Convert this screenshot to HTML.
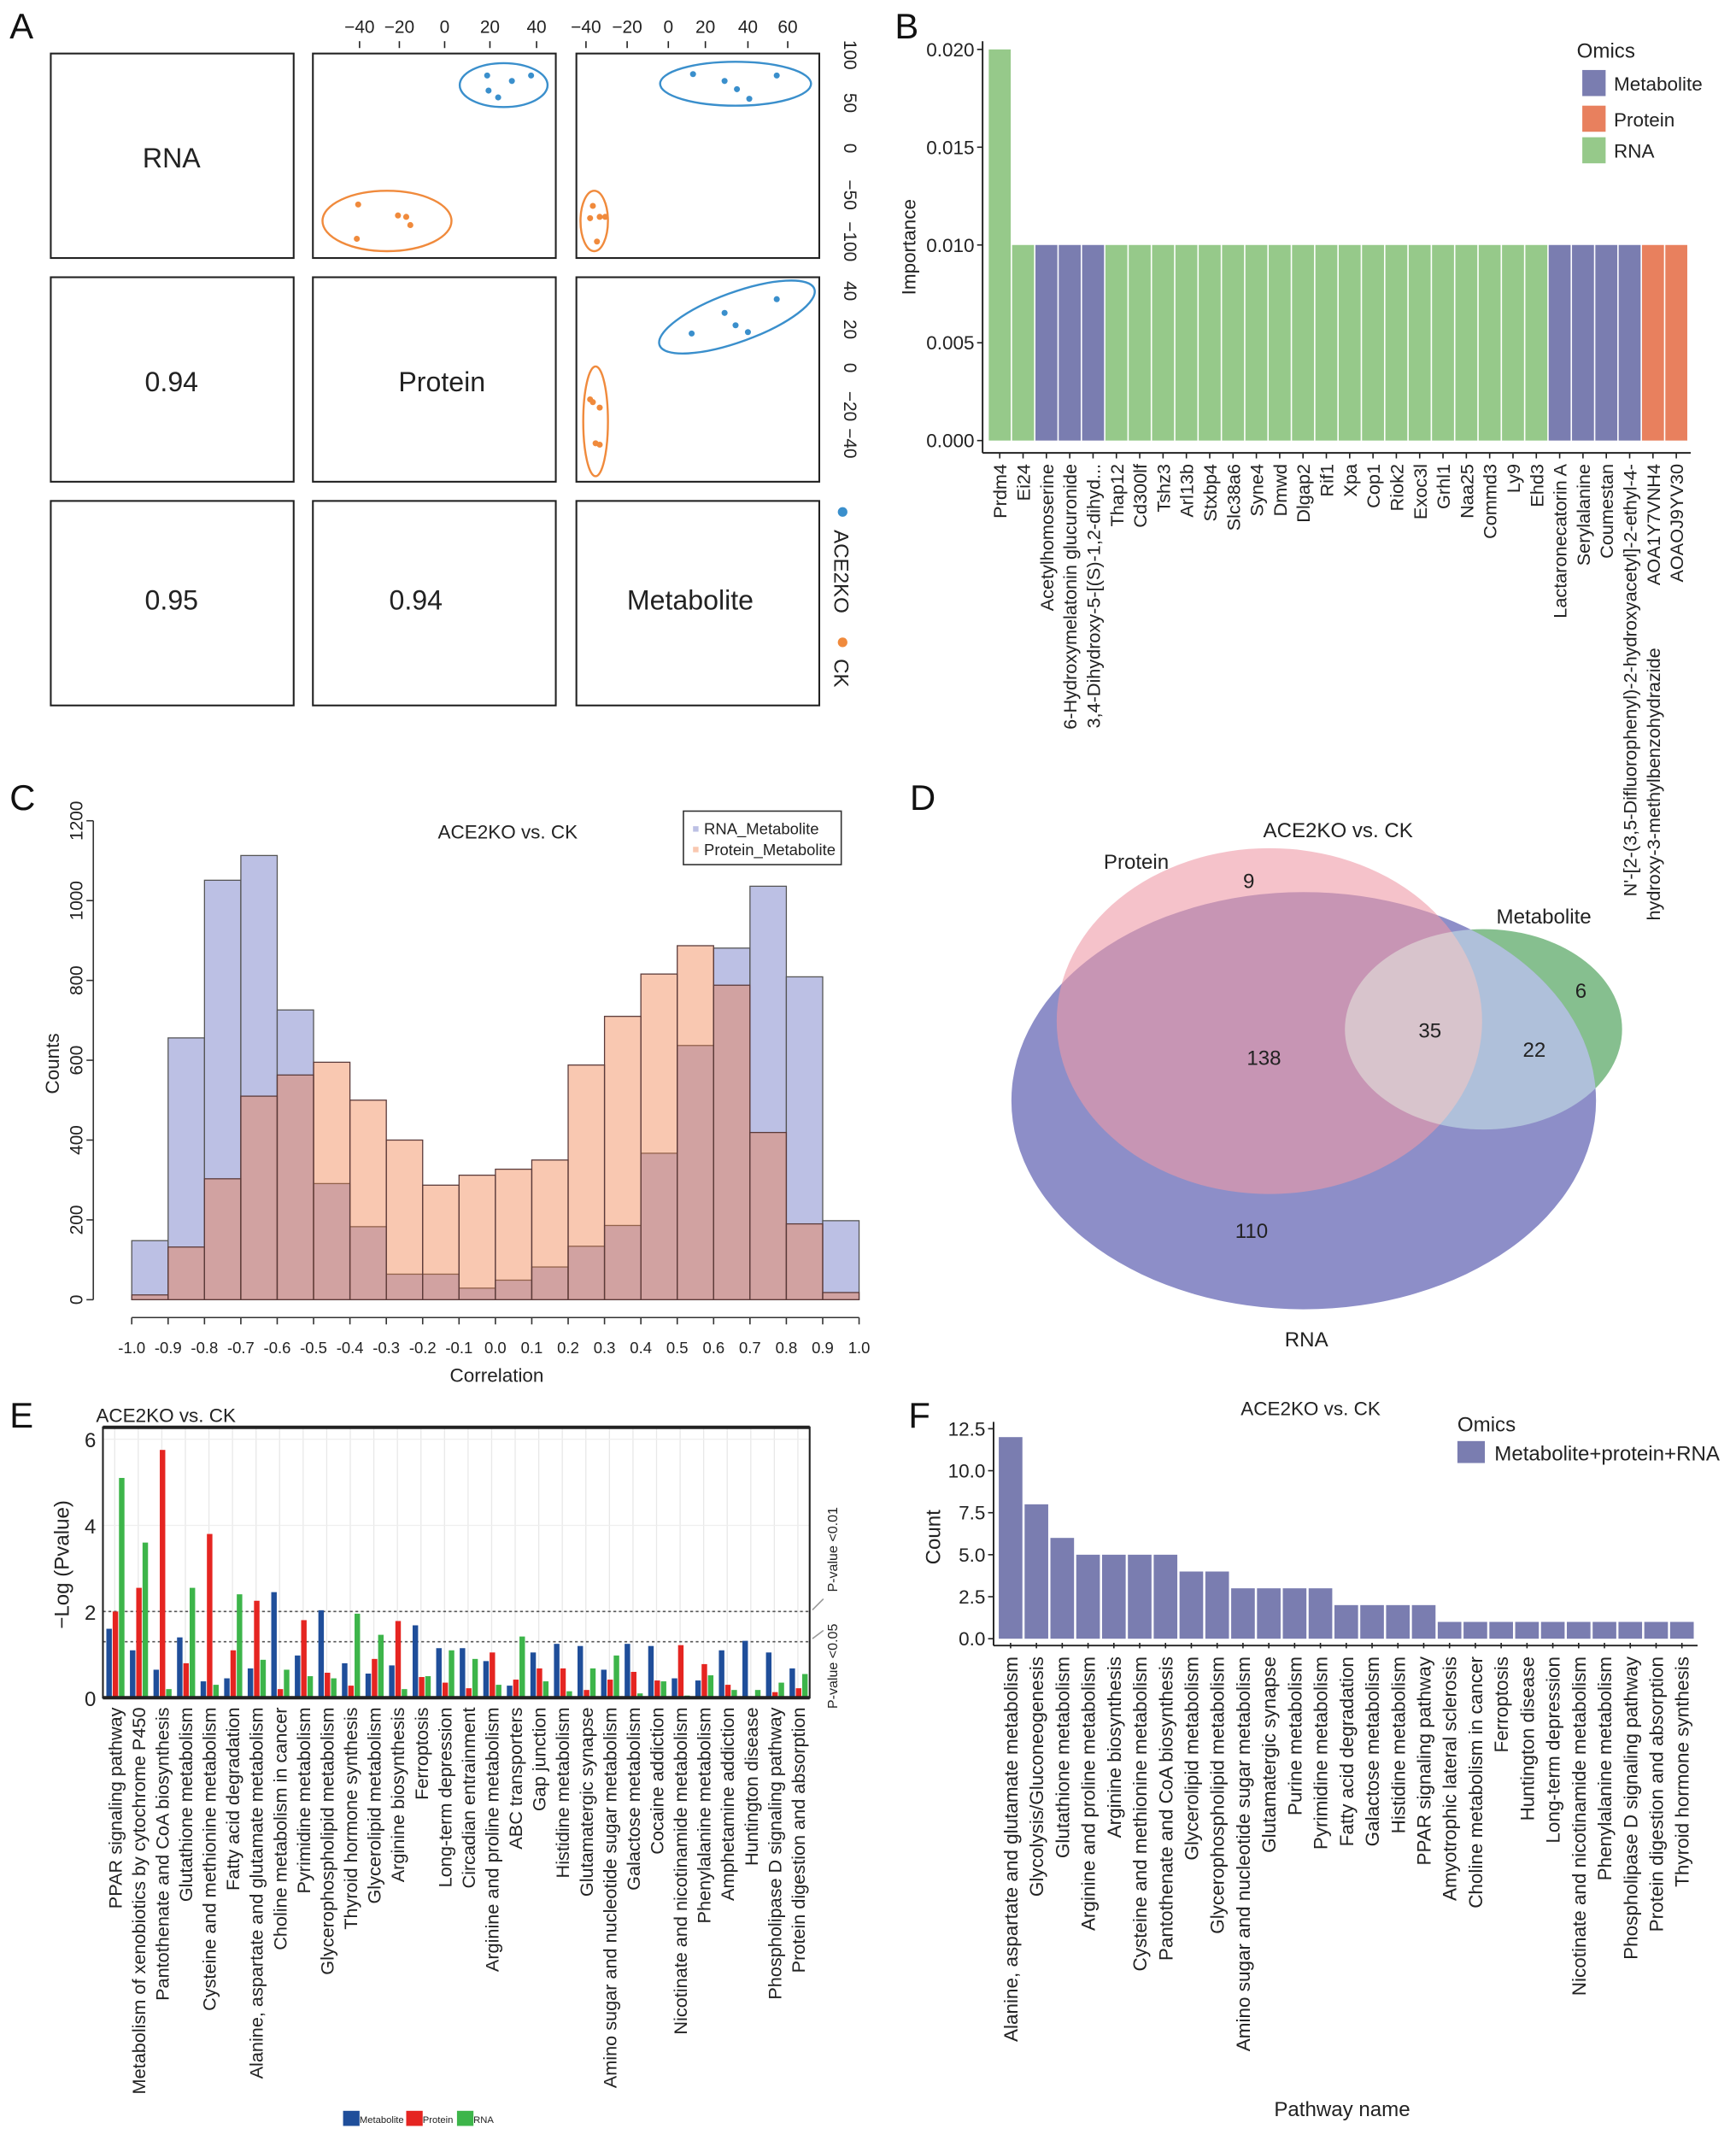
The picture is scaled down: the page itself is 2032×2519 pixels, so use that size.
<!DOCTYPE html>
<html><head><meta charset="utf-8">
<style>
html,body{margin:0;padding:0;background:#fff;}
svg{display:block;font-family:"Liberation Sans",Arial,sans-serif;}
</style></head>
<body>
<svg id="fig" xmlns="http://www.w3.org/2000/svg" width="2032" height="2519" viewBox="0 0 1265 1568" preserveAspectRatio="none">
<defs><clipPath id="rnaClip"><ellipse cx="950" cy="802" rx="213" ry="152"/></clipPath></defs>
<rect x="0" y="0" width="1265" height="1568" fill="#fff"/>
<!-- panel letters -->
<g font-size="26" fill="#111">
<text x="7" y="28">A</text>
<text x="652" y="28">B</text>
<text x="7" y="590">C</text>
<text x="663" y="590">D</text>
<text x="7" y="1040">E</text>
<text x="662" y="1040">F</text>
</g>

<!-- Panel A -->
<g id="panelA" stroke="#222" stroke-width="1.3" fill="none">
<rect x="37" y="39" width="177" height="149"/>
<rect x="228" y="39" width="177" height="149"/>
<rect x="420" y="39" width="177" height="149"/>
<rect x="37" y="202" width="177" height="149"/>
<rect x="228" y="202" width="177" height="149"/>
<rect x="420" y="202" width="177" height="149"/>
<rect x="37" y="365" width="177" height="149"/>
<rect x="228" y="365" width="177" height="149"/>
<rect x="420" y="365" width="177" height="149"/>
</g>
<g font-size="20" fill="#222" text-anchor="middle">
<text x="125" y="122">RNA</text>
<text x="322" y="285">Protein</text>
<text x="503" y="444">Metabolite</text>
<text x="125" y="285">0.94</text>
<text x="125" y="444">0.95</text>
<text x="303" y="444">0.94</text>
</g>
<g font-size="13" fill="#222" text-anchor="middle">
<text x="262" y="24">−40</text><text x="291" y="24">−20</text><text x="324" y="24">0</text><text x="357" y="24">20</text><text x="391" y="24">40</text>
<text x="427" y="24">−40</text><text x="457" y="24">−20</text><text x="487" y="24">0</text><text x="514" y="24">20</text><text x="545" y="24">40</text><text x="574" y="24">60</text>
</g>
<g stroke="#222" stroke-width="1">
<line x1="262" y1="30" x2="262" y2="35"/><line x1="291" y1="30" x2="291" y2="35"/><line x1="324" y1="30" x2="324" y2="35"/><line x1="357" y1="30" x2="357" y2="35"/><line x1="391" y1="30" x2="391" y2="35"/>
<line x1="427" y1="30" x2="427" y2="35"/><line x1="457" y1="30" x2="457" y2="35"/><line x1="487" y1="30" x2="487" y2="35"/><line x1="514" y1="30" x2="514" y2="35"/><line x1="545" y1="30" x2="545" y2="35"/><line x1="574" y1="30" x2="574" y2="35"/>
</g>
<g font-size="13" fill="#222" text-anchor="middle">
<text transform="translate(615,40) rotate(90)">100</text>
<text transform="translate(615,75) rotate(90)">50</text>
<text transform="translate(615,108) rotate(90)">0</text>
<text transform="translate(615,142) rotate(90)">−50</text>
<text transform="translate(615,176) rotate(90)">−100</text>
<text transform="translate(615,212) rotate(90)">40</text>
<text transform="translate(615,240) rotate(90)">20</text>
<text transform="translate(615,268) rotate(90)">0</text>
<text transform="translate(615,296) rotate(90)">−20</text>
<text transform="translate(615,323) rotate(90)">−40</text>
</g>
<g fill="none" stroke-width="1.5">
<ellipse cx="367" cy="62" rx="32" ry="16" stroke="#3a8fcc"/>
<ellipse cx="282" cy="161" rx="47" ry="22" stroke="#f08a3c"/>
<ellipse cx="536" cy="61" rx="55" ry="16" stroke="#3a8fcc"/>
<ellipse cx="433" cy="161" rx="10" ry="22" stroke="#f08a3c"/>
<ellipse cx="537" cy="231" rx="60" ry="18" stroke="#3a8fcc" transform="rotate(-20 537 231)"/>
<ellipse cx="434" cy="307" rx="9" ry="40" stroke="#f08a3c"/>
</g>
<g fill="#3a8fcc">
<circle cx="355" cy="55" r="2.2"/><circle cx="387" cy="55" r="2.2"/><circle cx="373" cy="59" r="2.2"/><circle cx="356" cy="66" r="2.2"/><circle cx="363" cy="71" r="2.2"/>
<circle cx="505" cy="54" r="2.2"/><circle cx="528" cy="59" r="2.2"/><circle cx="566" cy="55" r="2.2"/><circle cx="537" cy="65" r="2.2"/><circle cx="546" cy="72" r="2.2"/>
<circle cx="504" cy="243" r="2.2"/><circle cx="528" cy="228" r="2.2"/><circle cx="536" cy="237" r="2.2"/><circle cx="545" cy="242" r="2.2"/><circle cx="566" cy="218" r="2.2"/>
<circle cx="614" cy="373" r="3.5"/>
</g>
<g fill="#f08a3c">
<circle cx="261" cy="149" r="2.2"/><circle cx="290" cy="157" r="2.2"/><circle cx="296" cy="158" r="2.2"/><circle cx="299" cy="164" r="2.2"/><circle cx="260" cy="174" r="2.2"/>
<circle cx="432" cy="150" r="2.2"/><circle cx="437" cy="158" r="2.2"/><circle cx="430" cy="159" r="2.2"/><circle cx="441" cy="158" r="2.2"/><circle cx="435" cy="176" r="2.2"/>
<circle cx="430" cy="291" r="2.2"/><circle cx="437" cy="297" r="2.2"/><circle cx="432" cy="293" r="2.2"/><circle cx="434" cy="323" r="2.2"/><circle cx="437" cy="324" r="2.2"/>
<circle cx="614" cy="468" r="3.5"/>
</g>
<g font-size="15" fill="#222">
<text transform="translate(608,386) rotate(90)">ACE2KO</text>
<text transform="translate(608,480) rotate(90)">CK</text>
</g>

<!-- Panel B static parts -->
<g font-size="14" fill="#222">
<text transform="translate(667,180) rotate(-90)" text-anchor="middle">Importance</text>
<text x="1149" y="42" font-size="15">Omics</text>
<rect x="1153" y="51" width="17" height="19" fill="#7a7db0"/>
<text x="1176" y="66">Metabolite</text>
<rect x="1153" y="77" width="17" height="19" fill="#e8805e"/>
<text x="1176" y="92">Protein</text>
<rect x="1153" y="100" width="17" height="19" fill="#96c98a"/>
<text x="1176" y="115">RNA</text>
</g>
<g id="panelB"></g>

<!-- Panel C -->
<g id="panelC"></g>
<g font-size="14" fill="#222">
<text x="370" y="611" text-anchor="middle">ACE2KO vs. CK</text>
<text x="362" y="1007" text-anchor="middle">Correlation</text>
<text transform="translate(43,775) rotate(-90)" text-anchor="middle">Counts</text>
<rect x="498" y="591" width="115" height="39" fill="#fff" stroke="#333" stroke-width="1"/>
<rect x="505" y="602" width="4" height="4" fill="#bcc0e4"/>
<text x="513" y="608" font-size="11.5">RNA_Metabolite</text>
<rect x="505" y="617" width="4" height="4" fill="#f9c8b0"/>
<text x="513" y="623" font-size="11.5">Protein_Metabolite</text>
</g>

<!-- Panel D Venn -->
<g id="panelD">
<ellipse cx="1081" cy="750" rx="101" ry="73" fill="#86bf8f"/>
<ellipse cx="950" cy="802" rx="213" ry="152" fill="#8d8ec8"/>
<ellipse cx="925" cy="744" rx="155" ry="126" fill="#ee9aa6" fill-opacity="0.6"/>
<ellipse cx="1081" cy="750" rx="101" ry="73" fill="#7fbb8a" fill-opacity="0.6" clip-path="url(#rnaClip)" style="mix-blend-mode:screen"/>
<g font-size="15" fill="#222" text-anchor="middle">
<text x="975" y="610">ACE2KO vs. CK</text>
<text x="828" y="633">Protein</text>
<text x="1125" y="673">Metabolite</text>
<text x="952" y="981">RNA</text>
<text x="910" y="647">9</text>
<text x="1152" y="727">6</text>
<text x="1042" y="756">35</text>
<text x="921" y="776">138</text>
<text x="1118" y="770">22</text>
<text x="912" y="902">110</text>
</g>
</g>

<!-- Panel E -->
<g id="panelE"></g>
<g font-size="14" fill="#222">
<text x="70" y="1036">ACE2KO vs. CK</text>
<text transform="translate(50,1140) rotate(-90)" text-anchor="middle" font-size="15">−Log (Pvalue)</text>
<text transform="translate(610,1160) rotate(-90)" font-size="10">P-value &lt;0.01</text>
<text transform="translate(610,1245) rotate(-90)" font-size="10">P-value &lt;0.05</text>
<path d="M592 1173 L600 1165" stroke="#999" fill="none"/>
<path d="M592 1194 L600 1188" stroke="#999" fill="none"/>
<rect x="250" y="1538" width="12" height="11" fill="#1f4e9a"/>
<text x="262" y="1547" font-size="7">Metabolite</text>
<rect x="296" y="1538" width="12" height="11" fill="#e52521"/>
<text x="308" y="1547" font-size="7">Protein</text>
<rect x="333" y="1538" width="12" height="11" fill="#3db54a"/>
<text x="345" y="1547" font-size="7">RNA</text>
</g>

<!-- Panel F -->
<g id="panelF"></g>
<g font-size="15" fill="#222">
<text x="955" y="1031" text-anchor="middle" font-size="14">ACE2KO vs. CK</text>
<text x="1062" y="1043">Omics</text>
<rect x="1062" y="1050" width="20" height="16" fill="#7a7db0"/>
<text x="1089" y="1064">Metabolite+protein+RNA</text>
<text transform="translate(685,1120) rotate(-90)" text-anchor="middle">Count</text>
<text x="978" y="1542" text-anchor="middle">Pathway name</text>
</g>
</svg>
<script>
// ---------- Panel B data ----------
const bNames = ["Prdm4","Ei24","Acetylhomoserine","6-Hydroxymelatonin glucuronide","3,4-Dihydroxy-5-[(S)-1,2-dihyd...","Thap12","Cd300lf","Tshz3","Arl13b","Stxbp4","Slc38a6","Syne4","Dmwd","Dlgap2","Rif1","Xpa","Cop1","Riok2","Exoc3l","Grhl1","Naa25","Commd3","Ly9","Ehd3","Lactaronecatorin A","Serylalanine","Coumestan","N'-[2-(3,5-Difluorophenyl)-2-hydroxyacetyl]-2-ethyl-4-","AOA1Y7VNH4","AOAOJ9YV30"];
const bValues = [0.02,0.01,0.01,0.01,0.01,0.01,0.01,0.01,0.01,0.01,0.01,0.01,0.01,0.01,0.01,0.01,0.01,0.01,0.01,0.01,0.01,0.01,0.01,0.01,0.01,0.01,0.01,0.01,0.01,0.01];
const bOmics = ["RNA","RNA","Metabolite","Metabolite","Metabolite","RNA","RNA","RNA","RNA","RNA","RNA","RNA","RNA","RNA","RNA","RNA","RNA","RNA","RNA","RNA","RNA","RNA","RNA","RNA","Metabolite","Metabolite","Metabolite","Metabolite","Protein","Protein"];
const bTicks = [0,0.005,0.01,0.015,0.02];
const bTickLabels = ["0.000","0.005","0.010","0.015","0.020"];
// ---------- Panel C data ----------
const cBinStarts = [-1.0,-0.9,-0.8,-0.7,-0.6,-0.5,-0.4,-0.3,-0.2,-0.1,0.0,0.1,0.2,0.3,0.4,0.5,0.6,0.7,0.8,0.9];
const cRNA = [148,656,1051,1113,726,291,183,64,64,29,49,82,134,186,367,637,881,1036,809,198];
const cProtein = [12,132,303,510,563,595,500,400,287,312,327,350,588,710,816,887,788,419,190,18];
const cYTicks = [0,200,400,600,800,1000,1200];
const cXTickLabels = ["-1.0","-0.9","-0.8","-0.7","-0.6","-0.5","-0.4","-0.3","-0.2","-0.1","0.0","0.1","0.2","0.3","0.4","0.5","0.6","0.7","0.8","0.9","1.0"];
// ---------- Panel E data ----------
const eCats = ["PPAR signaling pathway","Metabolism of xenobiotics by cytochrome P450","Pantothenate and CoA biosynthesis","Glutathione metabolism","Cysteine and methionine metabolism","Fatty acid degradation","Alanine, aspartate and glutamate metabolism","Choline metabolism in cancer","Pyrimidine metabolism","Glycerophospholipid metabolism","Thyroid hormone synthesis","Glycerolipid metabolism","Arginine biosynthesis","Ferroptosis","Long-term depression","Circadian entrainment","Arginine and proline metabolism","ABC transporters","Gap junction","Histidine metabolism","Glutamatergic synapse","Amino sugar and nucleotide sugar metabolism","Galactose metabolism","Cocaine addiction","Nicotinate and nicotinamide metabolism","Phenylalanine metabolism","Amphetamine addiction","Huntington disease","Phospholipase D signaling pathway","Protein digestion and absorption"];
const eMetabolite = [1.6,1.1,0.65,1.4,0.38,0.45,0.68,2.45,0.98,2.03,0.8,0.56,0.75,1.68,1.15,1.15,0.85,0.28,1.05,1.25,1.2,0.65,1.25,1.2,0.45,0.4,1.1,1.32,1.05,0.68];
const eProtein = [2.0,2.55,5.75,0.8,3.8,1.1,2.25,0.2,1.8,0.58,0.28,0.9,1.78,0.48,0.35,0.22,1.05,0.42,0.68,0.68,0.18,0.42,0.6,0.4,1.22,0.78,0.3,0.02,0.13,0.22];
const eRNA = [5.1,3.6,0.2,2.55,0.3,2.4,0.88,0.65,0.5,0.45,1.95,1.46,0.2,0.5,1.1,0.9,0.3,1.42,0.38,0.15,0.68,0.98,0.1,0.38,0.05,0.52,0.18,0.18,0.35,0.55];
const eYTicks = [0,2,4,6];
const eThresholds = [2.0,1.3];
// ---------- Panel F data ----------
const fCats = ["Alanine, aspartate and glutamate metabolism","Glycolysis/Gluconeogenesis","Glutathione metabolism","Arginine and proline metabolism","Arginine biosynthesis","Cysteine and methionine metabolism","Pantothenate and CoA biosynthesis","Glycerolipid metabolism","Glycerophospholipid metabolism","Amino sugar and nucleotide sugar metabolism","Glutamatergic synapse","Purine metabolism","Pyrimidine metabolism","Fatty acid degradation","Galactose metabolism","Histidine metabolism","PPAR signaling pathway","Amyotrophic lateral sclerosis","Choline metabolism in cancer","Ferroptosis","Huntington disease","Long-term depression","Nicotinate and nicotinamide metabolism","Phenylalanine metabolism","Phospholipase D signaling pathway","Protein digestion and absorption","Thyroid hormone synthesis"];
const fCounts = [12,8,6,5,5,5,5,4,4,3,3,3,3,2,2,2,2,1,1,1,1,1,1,1,1,1,1];
const fYTicks = [0,2.5,5,7.5,10,12.5];
const fYTickLabels = ["0.0","2.5","5.0","7.5","10.0","12.5"];

const NS = "http://www.w3.org/2000/svg";
function mk(tag, attrs, parent){
  const e = document.createElementNS(NS, tag);
  for (const k in attrs) e.setAttribute(k, attrs[k]);
  parent.appendChild(e);
  return e;
}
function txt(parent, x, y, s, attrs){
  const t = mk("text", Object.assign({x:x, y:y, fill:"#222"}, attrs||{}), parent);
  t.textContent = s;
  return t;
}

// ---------- Panel B ----------
(function(){
  const g = document.getElementById("panelB");
  const x0 = 720, bw = 17, y0 = 321, yTop = 36;
  const yB = v => y0 - v / 0.02 * (y0 - yTop);
  const xB = i => x0 + i * bw;
  const col = {Metabolite:"#7a7db0", Protein:"#e8805e", RNA:"#96c98a"};
  const ax = mk("line", {x1:716, y1:30, x2:716, y2:330, stroke:"#222", "stroke-width":1.2}, g);
  
  
  const axx = mk("line", {x1:716, y1:330, x2:1232, y2:330, stroke:"#222", "stroke-width":1.2}, g);
  
  
  bTicks.forEach((v, i) => {
    mk("line", {x1:712, y1:yB(v), x2:716, y2:yB(v), stroke:"#222"}, g);
    const t = txt(g, 710, yB(v) + 5, bTickLabels[i], {"text-anchor":"end", "font-size":14});
    
    
  });
  bValues.forEach((v, i) => {
    const r = mk("rect", {x:xB(i) + 0.5, y:yB(v), width:bw - 1, height:y0 - yB(v), fill:col[bOmics[i]]}, g);
    
    
    const cx = xB(i) + bw / 2;
    mk("line", {x1:cx, y1:330, x2:cx, y2:334, stroke:"#222"}, g);
    const t = txt(g, 0, 0, bNames[i], {"text-anchor":"end", "font-size":13.5, transform:"translate(" + (cx + 5) + ",338) rotate(-90)"});
    
    
    if (i === 27) {
      const t2 = txt(g, 0, 0, "hydroxy-3-methylbenzohydrazide", {"text-anchor":"end", "font-size":13.5, transform:"translate(" + (cx + 22) + ",472) rotate(-90)"});
      
      
    }
  });
})();

// ---------- Panel C ----------
(function(){
  const g = document.getElementById("panelC");
  const xC = v => 96 + (v + 1) * 265;
  const yC = c => 947 - c * 0.2908;
  cBinStarts.forEach((b, i) => {
    const r = mk("rect", {x:xC(b), y:yC(cRNA[i]), width:xC(b + 0.1) - xC(b), height:947 - yC(cRNA[i]), fill:"#bcc0e4", stroke:"#555", "stroke-width":0.8}, g);
    
    
  });
  cBinStarts.forEach((b, i) => {
    const r = mk("rect", {x:xC(b), y:yC(cProtein[i]), width:xC(b + 0.1) - xC(b), height:947 - yC(cProtein[i]), fill:"rgb(240,117,60)", "fill-opacity":0.4, stroke:"#5a3a3a", "stroke-width":0.8}, g);
    
    
  });
  const ya = mk("line", {x1:68, y1:yC(0), x2:68, y2:yC(1200), stroke:"#333"}, g);
  
  
  cYTicks.forEach(v => {
    mk("line", {x1:63, y1:yC(v), x2:68, y2:yC(v), stroke:"#333"}, g);
    const t = txt(g, 0, 0, String(v), {"text-anchor":"middle", "font-size":13, transform:"translate(60," + yC(v) + ") rotate(-90)"});
    
    
  });
  const xa = mk("line", {x1:xC(-1), y1:960, x2:xC(1), y2:960, stroke:"#333"}, g);
  
  
  cXTickLabels.forEach(s => {
    const v = parseFloat(s);
    mk("line", {x1:xC(v), y1:960, x2:xC(v), y2:965, stroke:"#333"}, g);
    const t = txt(g, xC(v), 986, s, {"text-anchor":"middle", "font-size":11.5});
    
    
  });
})();

// ---------- Panel E ----------
(function(){
  const g = document.getElementById("panelE");
  const L = 75, R = 590, T = 1040, B = 1237;
  const gw = (R - L) / eCats.length;
  const yE = v => B - v * 31.4;
  eCats.forEach((c, i) => {
    const cx = L + gw * (i + 0.5);
    mk("line", {x1:cx, y1:T, x2:cx, y2:B, stroke:"#e8e8e8", "stroke-width":0.8}, g);
  });
  eYTicks.forEach(v => mk("line", {x1:L, y1:yE(v), x2:R, y2:yE(v), stroke:"#eee", "stroke-width":0.8}, g));
  eThresholds.forEach(v => {
    const l = mk("line", {x1:L, y1:yE(v), x2:R, y2:yE(v), stroke:"#555", "stroke-width":1, "stroke-dasharray":"2,2"}, g);
    
    
  });
  const series = [[eMetabolite, "#1f4e9a", 0], [eProtein, "#e52521", 1], [eRNA, "#3db54a", 2]];
  eCats.forEach((c, i) => {
    const gx = L + gw * i;
    series.forEach(s => {
      const v = s[0][i];
      const r = mk("rect", {x:gx + 2.5 + s[2] * 4.6, y:yE(v), width:4, height:B - yE(v), fill:s[1]}, g);
      
      
    });
    const t = txt(g, 0, 0, c, {"text-anchor":"end", "font-size":13.5, transform:"translate(" + (gx + gw / 2 + 5) + ",1244) rotate(-90)"});
    
    
  });
  const frame = mk("rect", {x:L, y:T, width:R - L, height:B - T, fill:"none", stroke:"#222", "stroke-width":1.3}, g);
  
  
  mk("line", {x1:L, y1:T, x2:R, y2:T, stroke:"#222", "stroke-width":2.5}, g);
  mk("line", {x1:L, y1:B, x2:R, y2:B, stroke:"#222", "stroke-width":2.5}, g);
  eYTicks.forEach(v => {
    const t = txt(g, 70, yE(v) + 6, String(v), {"text-anchor":"end", "font-size":15});
    
    
  });
})();

// ---------- Panel F ----------
(function(){
  const g = document.getElementById("panelF");
  const L = 727, R = 1235, B = 1194;
  const bw = (R - L) / fCats.length;
  const yF = v => B - v * 12.24;
  fCounts.forEach((v, i) => {
    const r = mk("rect", {x:L + i * bw + 0.8, y:yF(v), width:bw - 1.6, height:B - yF(v), fill:"#7a7db0"}, g);
    
    
    const cx = L + i * bw + bw / 2;
    mk("line", {x1:cx, y1:1197, x2:cx, y2:1201, stroke:"#222"}, g);
    const t = txt(g, 0, 0, fCats[i], {"text-anchor":"end", "font-size":14, transform:"translate(" + (cx + 5) + ",1207) rotate(-90)"});
    
    
  });
  const ya = mk("line", {x1:724, y1:1036, x2:724, y2:1199, stroke:"#222", "stroke-width":1.2}, g);
  
  
  const xa = mk("line", {x1:724, y1:1199, x2:R + 2, y2:1199, stroke:"#222", "stroke-width":1.2}, g);
  
  
  fYTicks.forEach((v, i) => {
    mk("line", {x1:720, y1:yF(v), x2:724, y2:yF(v), stroke:"#222"}, g);
    const t = txt(g, 718, yF(v) + 5, fYTickLabels[i], {"text-anchor":"end", "font-size":14});
    
    
  });
})();
</script>
</body></html>
